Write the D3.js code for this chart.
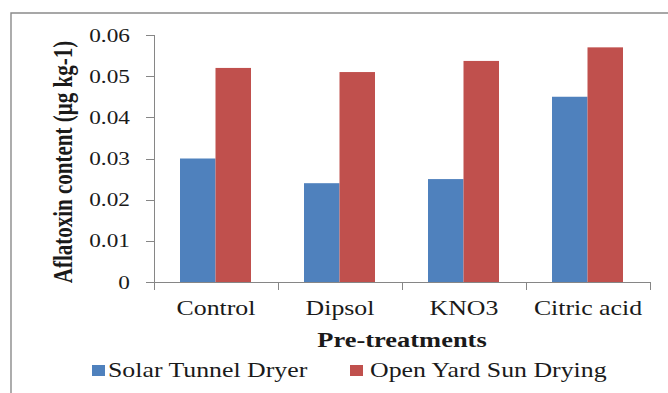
<!DOCTYPE html>
<html>
<head>
<meta charset="utf-8">
<script src="https://cdn.jsdelivr.net/npm/d3@7"></script>
<style>
html,body{margin:0;padding:0;background:#fff;}
svg{display:block;}
</style>
</head>
<body>
<svg id="chart" width="668" height="393" font-family="'Liberation Serif', 'Times New Roman', Times, 'DejaVu Serif', serif"></svg>
<script>
const categories = ["Control", "Dipsol", "KNO3", "Citric acid"];
const seriesNames = ["Solar Tunnel Dryer", "Open Yard Sun Drying"];
const solarTunnel = [0.030, 0.024, 0.025, 0.045];
const openYard = [0.052, 0.051, 0.0537, 0.057];
const yTicks = [0, 0.01, 0.02, 0.03, 0.04, 0.05, 0.06];
const colors = ["#4F81BD", "#C0504D"];
const yTitle = "Aflatoxin content (µg kg-1)";
const xTitle = "Pre-treatments";

const seriesValues = [solarTunnel, openYard];
const svg = d3.select("#chart");
const SX = 1.26; // horizontal stretch of the reference text
const axisColor = "#868686";
const FONT = "'Liberation Serif', 'Times New Roman', Times, 'DejaVu Serif', serif";
const textFill = "#1a1a1a";

svg.append("path").attr("d", "M11,393 L11,13 L668,13")
  .attr("fill", "none").attr("stroke", "#8a8a8a").attr("stroke-width", 1.4);

const plot = {left: 154, right: 650, top: 35, bottom: 282};

const y = d3.scaleLinear().domain([0, 0.06]).range([plot.bottom, plot.top]);
const x0 = d3.scaleBand().domain(categories).range([plot.left, plot.right]).padding(0);
const x1 = d3.scaleBand().domain(seriesNames).range([26, 97]).padding(0);

function addText(sel) {
  return sel.append("text").style("font-family", FONT).attr("fill", textFill);
}

categories.forEach((c, i) => {
  seriesNames.forEach((s, j) => {
    const v = seriesValues[j][i];
    svg.append("rect")
      .attr("x", x0(c) + x1(s))
      .attr("y", y(v))
      .attr("width", x1.bandwidth())
      .attr("height", y(0) - y(v))
      .attr("fill", colors[j]);
  });
});

const ya = svg.append("g");
ya.append("line").attr("x1", plot.left + 0.5).attr("x2", plot.left + 0.5)
  .attr("y1", y(0.06)).attr("y2", y(0)).attr("stroke", axisColor).attr("stroke-width", 1);
yTicks.forEach(t => {
  const yy = Math.round(y(t)) + 0.5;
  ya.append("line").attr("x1", plot.left - 8).attr("x2", plot.left)
    .attr("y1", yy).attr("y2", yy).attr("stroke", axisColor).attr("stroke-width", 1);
  addText(ya)
    .attr("transform", `translate(130,${y(t) + 6.5}) scale(${SX},1)`)
    .attr("text-anchor", "end")
    .attr("font-size", 18.5)
    .text(t === 0 ? "0" : d3.format(".2f")(t));
});

const xa = svg.append("g");
xa.append("line").attr("x1", plot.left).attr("x2", plot.right)
  .attr("y1", plot.bottom + 0.5).attr("y2", plot.bottom + 0.5).attr("stroke", axisColor);
const tickXs = categories.map(c => x0(c)).concat([x0(categories[categories.length - 1]) + x0.step()]);
tickXs.forEach(tx => {
  xa.append("line").attr("x1", tx + 0.5).attr("x2", tx + 0.5)
    .attr("y1", plot.bottom).attr("y2", plot.bottom + 8).attr("stroke", axisColor);
});
categories.forEach(c => {
  addText(xa)
    .attr("transform", `translate(${x0(c) + x0.bandwidth() / 2},315) scale(${SX},1)`)
    .attr("text-anchor", "middle")
    .attr("font-size", 20.5)
    .text(c);
});

addText(svg)
  .attr("transform", `translate(${(plot.left + plot.right) / 2},346.5) scale(${SX},1)`)
  .attr("text-anchor", "middle")
  .attr("font-size", 21)
  .attr("font-weight", "bold")
  .text(xTitle);

addText(svg)
  .attr("transform", `translate(72,162) scale(${SX},1) rotate(-90)`)
  .attr("text-anchor", "middle")
  .attr("font-size", 21)
  .attr("font-weight", "bold")
  .text(yTitle);

const legendPos = [{sq: 92, tx: 108}, {sq: 350, tx: 370}];
seriesNames.forEach((s, j) => {
  svg.append("rect").attr("x", legendPos[j].sq).attr("y", 365)
    .attr("width", 13).attr("height", 11).attr("fill", colors[j]);
  addText(svg)
    .attr("transform", `translate(${legendPos[j].tx},377) scale(${SX},1)`)
    .attr("font-size", 20.5)
    .text(s);
});
</script>
</body>
</html>
